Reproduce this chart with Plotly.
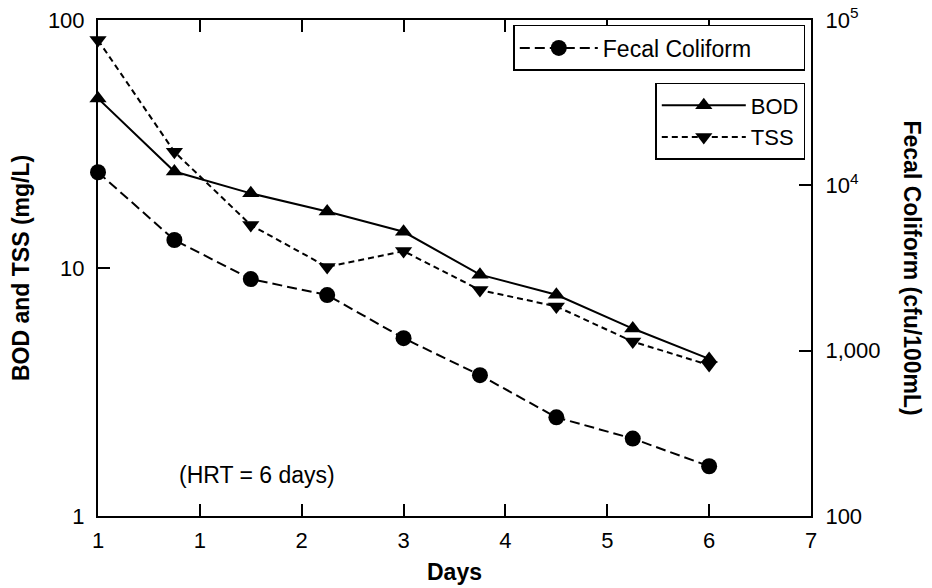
import plotly.graph_objects as go

days = [0, 0.75, 1.5, 2.25, 3, 3.75, 4.5, 5.25, 6]
bod = [48.3, 24.5, 20.0, 16.9, 14.0, 9.4, 7.8, 5.7, 4.3]
tss = [83, 29.4, 14.9, 10.1, 11.7, 8.15, 7.0, 5.05, 4.06]
fecal = [12000, 4670, 2710, 2170, 1190, 711, 395, 294, 200]

x_tickvals = [0, 1, 2, 3, 4, 5, 6, 7]
x_ticktext = ["1", "1", "2", "3", "4", "5", "6", "7"]
yl_tickvals = [1, 10, 100]
yl_ticktext = ["1", "10", "100"]
yr_tickvals = [100, 1000, 10000, 100000]
yr_ticktext = ["100", "1,000", "10<sup>4</sup>", "10<sup>5</sup>"]

FONT = "Liberation Sans, Arial, sans-serif"

fig = go.Figure()
fig.add_trace(go.Scatter(
    x=days, y=fecal, name="Fecal Coliform", yaxis="y2", mode="lines+markers",
    line=dict(color="black", width=2, dash="10px,5px"),
    marker=dict(symbol="circle", size=16, color="black"),
    cliponaxis=False, legend="legend"))
fig.add_trace(go.Scatter(
    x=days, y=bod, name="BOD", mode="lines+markers",
    line=dict(color="black", width=2),
    marker=dict(symbol="triangle-up", size=15, color="black"),
    cliponaxis=False, legend="legend2"))
fig.add_trace(go.Scatter(
    x=days, y=tss, name="TSS", mode="lines+markers",
    line=dict(color="black", width=2, dash="6px,4px"),
    marker=dict(symbol="triangle-down", size=15, color="black"),
    cliponaxis=False, legend="legend2"))

axis_common = dict(showline=True, linecolor="black", linewidth=2,
                   ticks="inside", tickcolor="black", tickwidth=1.5, ticklen=12,
                   showgrid=False, zeroline=False, automargin=False,
                   tickfont=dict(family=FONT, size=22, color="black"))

fig.update_layout(
    width=932, height=588,
    margin=dict(l=98, r=121, t=20, b=72, autoexpand=False),
    paper_bgcolor="white", plot_bgcolor="white",
    font=dict(family=FONT, size=22, color="black"),
    xaxis=dict(range=[0, 7], tickvals=x_tickvals, ticktext=x_ticktext,
               mirror="ticks", ticklabelstandoff=4, **axis_common),
    yaxis=dict(type="log", range=[0, 2], tickvals=yl_tickvals, ticktext=yl_ticktext,
               ticklabelstandoff=7, **axis_common),
    yaxis2=dict(type="log", range=[2, 5], overlaying="y", side="right",
                tickvals=yr_tickvals, ticktext=yr_ticktext, ticklabelstandoff=8,
                **axis_common),
    legend=dict(x=0.992, y=0.99, xanchor="right", yanchor="top",
                orientation="h", entrywidth=196, itemwidth=78,
                bordercolor="black", borderwidth=1.5, bgcolor="white",
                font=dict(family=FONT, size=23, color="black")),
    legend2=dict(x=0.992, y=0.873, xanchor="right", yanchor="top",
                 itemwidth=84, tracegroupgap=0,
                 bordercolor="black", borderwidth=1.5, bgcolor="white",
                 font=dict(family=FONT, size=22, color="black")),
    showlegend=True,
    annotations=[
        dict(text="<b>BOD and TSS (mg/L)</b>", xref="paper", yref="paper",
             x=-0.108, y=0.5, textangle=-90, showarrow=False,
             xanchor="center", yanchor="middle", font=dict(size=23)),
        dict(text="<b>Fecal Coliform (cfu/100mL)</b>", xref="paper", yref="paper",
             x=1.141, y=0.5, textangle=90, showarrow=False,
             xanchor="center", yanchor="middle", font=dict(size=23)),
        dict(text="<b>Days</b>", xref="paper", yref="paper",
             x=0.5, y=-0.113, showarrow=False,
             xanchor="center", yanchor="middle", font=dict(size=23)),
        dict(text="(HRT = 6 days)", xref="paper", yref="paper",
             x=0.111, y=0.083, showarrow=False,
             xanchor="left", yanchor="middle", font=dict(size=23)),
    ],
)

fig.write_html("out.html", config={"displayModeBar": False},
               post_script="document.body.style.margin='0';document.body.style.overflow='hidden';")
